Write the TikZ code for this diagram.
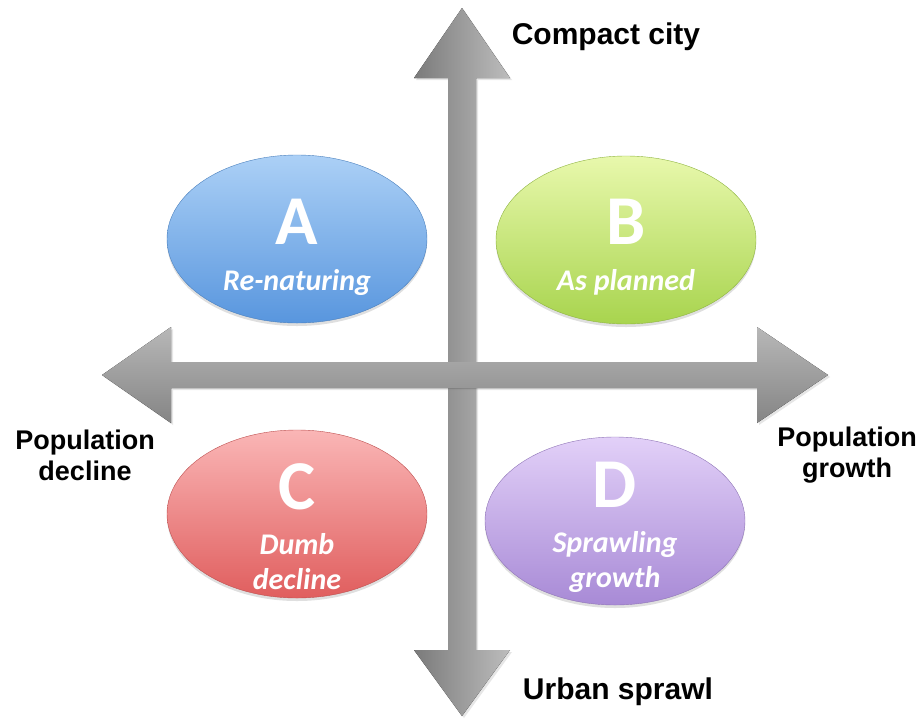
\documentclass[tikz,border=0pt]{standalone}
\usepackage{fontspec}
\newfontfamily\calib{Carlito}
\newfontfamily\arialb{Liberation Sans}
\usetikzlibrary{shadows,shapes.geometric}

\definecolor{blueT}{RGB}{172,208,246}
\definecolor{blueB}{RGB}{88,150,222}
\definecolor{greenT}{RGB}{232,248,172}
\definecolor{greenB}{RGB}{168,212,78}
\definecolor{redT}{RGB}{250,182,182}
\definecolor{redB}{RGB}{224,94,94}
\definecolor{violT}{RGB}{226,208,248}
\definecolor{violB}{RGB}{168,138,214}

\tikzset{
	quad/.style = {ellipse, minimum width = 260, minimum height = 168, inner sep = 0,
		drop shadow = {shadow xshift = 0pt, shadow yshift = -3pt, opacity = .25}},
	letter/.style = {text = white, font = \calib\bfseries\fontsize{70}{70}\selectfont},
	caption/.style = {text = white, align = center,
		font = \calib\bfseries\itshape\fontsize{30}{35}\selectfont},
	axislabel/.style = {align = center, font = \arialb\bfseries\fontsize{27}{31}\selectfont}
}

\begin{document}
\begin{tikzpicture}[x = 1pt, y = -1pt]
		\useasboundingbox (0,0) rectangle (920,718);
		
		% vertical axis
		\coordinate (Top) at (462,8);
		\coordinate (Bot) at (462,716);
		\fill [left color = black!52, right color = black!26,
			drop shadow = {shadow xshift = 2pt, shadow yshift = -2pt, opacity = .2}]
			(Top) -- (510,78) -- (476,78) -- (476,650) -- (510,650) -- (Bot)
			-- (414,650) -- (448,650) -- (448,78) -- (414,78) -- cycle;
		
		% horizontal axis
		\coordinate (Lft) at (102,375);
		\coordinate (Rgt) at (828,375);
		\fill [top color = black!28, bottom color = black!48,
			drop shadow = {shadow xshift = 2pt, shadow yshift = -2pt, opacity = .2}]
			(Lft) -- (171,327) -- (171,362) -- (757,362) -- (757,327) -- (Rgt)
			-- (757,423) -- (757,388) -- (171,388) -- (171,423) -- cycle;
		
		\node (Compact) at (606,37) [axislabel, font = \arialb\bfseries\fontsize{30}{34}\selectfont] {Compact city};
		\node (Sprawl) at (618,692) [axislabel, font = \arialb\bfseries\fontsize{30}{34}\selectfont] {Urban sprawl};
		\node (Decline) at (85,455) [axislabel] {Population\\decline};
		\node (Growth) at (847,455) [axislabel] {Population\\growth};
		
		% quadrants
		\node (A) at (297,239) [quad, draw = blueB!85!black, top color = blueT, bottom color = blueB] {};
		\node at (297,222) [letter] {A};
		\node at (297,282) [caption] {Re-naturing};
		
		\node (B) at (626,240) [quad, draw = greenB!85!black, top color = greenT, bottom color = greenB] {};
		\node at (626,222) [letter] {B};
		\node at (626,282) [caption] {As planned};
		
		\node (C) at (297,514) [quad, draw = redB!85!black, top color = redT, bottom color = redB] {};
		\node at (297,487) [letter] {C};
		\node at (297,562) [caption] {Dumb\\decline};
		
		\node (D) at (615,521) [quad, draw = violB!85!black, top color = violT, bottom color = violB] {};
		\node at (615,485) [letter] {D};
		\node at (615,562) [caption] {Sprawling\\growth};
\end{tikzpicture}
\end{document}
